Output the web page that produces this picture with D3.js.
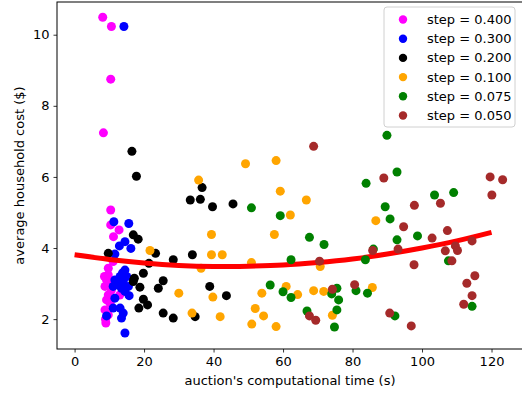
<!DOCTYPE html>
<html>
<head>
<meta charset="utf-8">
<script src="https://cdn.jsdelivr.net/npm/d3@7"></script>
<style>
  body { margin: 0; background: #fff; }
  text { font-family: "DejaVu Sans", sans-serif; fill: #000; }
</style>
</head>
<body>
<div id="chart"></div>
<script>
// Data: [time (s), cost ($)]
const step400 = [[8.1,10.49],[10.6,10.23],[10.4,8.75],[8.3,7.24],[10.4,5.07],[10.4,4.65],[12.8,4.51],[11.2,4.32],[11.1,3.62],[9.7,3.43],[9.7,3.24],[9.2,3.1],[10.2,3.01],[8.75,2.92],[10.6,2.82],[9.7,2.68],[9.2,2.54],[10.2,2.45],[8.75,2.26],[9.7,2.12],[9.0,1.89],[13.0,2.68],[8.6,3.2],[8.9,2.0]]
const step300 = [[14.2,10.23],[11.3,4.74],[15.6,4.69],[14.5,4.18],[12.9,4.06],[16.2,3.99],[11.6,3.83],[14.5,3.38],[13.1,3.2],[15.0,3.2],[11.6,3.1],[14.0,3.06],[12.6,2.96],[15.5,2.92],[11.1,2.92],[13.5,2.87],[14.5,2.78],[15.7,2.66],[11.6,2.59],[11.1,2.31],[13.1,2.31],[14.0,2.17],[9.2,2.09],[13.5,2.03],[14.5,1.61],[12.2,3.0],[13.8,3.3]]
const step200 = [[16.5,6.72],[17.8,6.02],[33.3,5.35],[36.2,5.37],[36.7,5.7],[39.7,5.16],[45.6,5.24],[16.9,4.37],[18.3,4.25],[9.7,3.85],[23.3,3.85],[28.4,3.67],[33.9,3.81],[21.4,3.57],[19.8,3.29],[17.2,3.15],[16.9,3.06],[25.5,3.08],[24.1,2.87],[18.8,2.9],[19.8,2.56],[21.0,2.4],[18.5,2.31],[25.5,2.17],[28.4,2.03],[34.7,2.07],[38.9,2.92],[43.7,2.66]]
const step100 = [[21.7,3.93],[30.0,2.73],[49.2,6.37],[58.0,6.46],[35.7,5.91],[59.2,5.6],[66.7,5.35],[62.1,4.93],[39.4,4.38],[57.5,4.38],[39.4,3.81],[42.5,3.81],[36.4,3.43],[50.9,3.59],[70.7,3.48],[39.8,2.62],[53.9,2.73],[60.9,2.92],[64.2,2.69],[68.8,2.8],[71.7,2.78],[33.8,2.17],[41.9,2.07],[52.0,2.3],[54.4,2.09],[51.0,1.86],[58.0,1.79],[74.2,2.11],[86.7,4.77],[85.7,2.89]]
const step075 = [[50.9,5.13],[59.2,4.91],[67.6,4.3],[71.8,4.1],[62.3,3.67],[56.3,2.96],[60.0,2.77],[62.3,2.61],[66.9,2.23],[75.5,2.87],[74.0,2.71],[76.0,2.54],[75.5,2.26],[74.8,1.78],[89.9,7.17],[92.8,6.14],[83.9,5.82],[103.6,5.49],[109.1,5.56],[89.4,5.16],[90.8,4.82],[92.8,4.23],[98.7,4.34],[86.0,3.97],[83.7,3.67],[107.6,3.64],[81.0,2.8],[84.3,2.73],[92.2,2.09],[114.4,2.36]]
const step050 = [[68.8,6.86],[70.5,3.63],[74.2,2.84],[67.6,2.09],[69.4,1.97],[89.0,5.97],[119.6,6.0],[123.2,5.92],[120.1,5.49],[97.8,5.2],[105.3,5.26],[94.7,4.6],[107.3,4.49],[102.9,4.28],[114.4,4.2],[109.6,4.06],[110.2,3.93],[93.1,3.97],[85.8,3.93],[106.7,3.92],[108.6,3.64],[97.7,3.53],[115.2,3.22],[112.9,3.01],[80.6,2.97],[114.4,2.66],[112.0,2.42],[90.7,2.17],[96.9,1.81]]

// Fitted curve
const fitX = [0, 10, 20, 30, 40, 50, 60, 70, 80, 90, 100, 110, 120]
const fitY = [3.81, 3.68, 3.58, 3.51, 3.48, 3.49, 3.52, 3.59, 3.69, 3.83, 4.00, 4.20, 4.44]

const stepLabels = ["step = 0.400", "step = 0.300", "step = 0.200", "step = 0.100", "step = 0.075", "step = 0.050"]
const stepColors = ["#ff00ff", "#0000ff", "#000000", "#ffa500", "#008000", "#a52a2a"]
const xTicks = [0, 20, 40, 60, 80, 100, 120]
const yTicks = [2, 4, 6, 8, 10]

;(function () {
  const W = 522, H = 396
  // plot box (the right side runs past the window, as in the picture)
  const margin = { top: 2, left: 57 }
  const width = 471
  const height = 347

  const svg = d3.select("#chart").append("svg")
    .attr("width", W)
    .attr("height", H)

  const g = svg.append("g")
    .attr("transform", "translate(" + margin.left + "," + margin.top + ")")

  const x = d3.scaleLinear().domain([-5.06, 130.5]).range([0, width])
  const y = d3.scaleLinear().domain([1.16, 10.92]).range([height, 0])

  // axes
  const xAxis = g.append("g")
    .attr("transform", "translate(0," + height + ")")
    .call(d3.axisBottom(x).tickValues(xTicks).tickSize(3.5).tickPadding(4))
  const yAxis = g.append("g")
    .call(d3.axisLeft(y).tickValues(yTicks).tickSize(3.5).tickPadding(4))

  ;[xAxis, yAxis].forEach(a => {
    a.select(".domain").remove()
    a.selectAll("text").attr("font-size", 13).attr("font-family", "DejaVu Sans").attr("fill", "#000")
    a.selectAll("line").attr("stroke", "#000").attr("stroke-width", 0.8)
  })

  const series = [step400, step300, step200, step100, step075, step050]
  const line = d3.line().x(d => x(d[0])).y(d => y(d[1])).curve(d3.curveNatural)
  const fit = fitX.map((v, i) => [v, fitY[i]])

  series.forEach((pts, i) => {
    g.append("g").selectAll("circle")
      .data(pts)
      .join("circle")
      .attr("cx", d => x(d[0]))
      .attr("cy", d => y(d[1]))
      .attr("r", 4.5)
      .attr("fill", stepColors[i])
    if (i === 3) {
      g.append("path")
        .datum(fit)
        .attr("d", line)
        .attr("fill", "none")
        .attr("stroke", "#ff0000")
        .attr("stroke-width", 5)
    }
  })

  // frame
  g.append("rect")
    .attr("width", width)
    .attr("height", height)
    .attr("fill", "none")
    .attr("stroke", "#000")
    .attr("stroke-width", 1)

  // axis titles
  svg.append("text")
    .attr("x", 290)
    .attr("y", 384.5)
    .attr("text-anchor", "middle")
    .attr("font-size", 13)
    .text("auction's computational time (s)")

  svg.append("text")
    .attr("transform", "translate(24," + (margin.top + height / 2) + ") rotate(-90)")
    .attr("text-anchor", "middle")
    .attr("font-size", 13)
    .text("average household cost ($)")

  // legend
  const legend = svg.append("g").attr("transform", "translate(384,7)")
  legend.append("rect")
    .attr("width", 131)
    .attr("height", 120)
    .attr("rx", 3)
    .attr("fill", "#fff")
    .attr("fill-opacity", 0.8)
    .attr("stroke", "#d0d0d0")

  const rows = legend.selectAll("g.row")
    .data(stepLabels)
    .join("g")
    .attr("class", "row")
    .attr("transform", (d, i) => "translate(0," + (12.5 + i * 19.2) + ")")
  rows.append("circle")
    .attr("cx", 19)
    .attr("r", 4.2)
    .attr("fill", (d, i) => stepColors[i])
  rows.append("text")
    .attr("x", 43)
    .attr("dy", "0.35em")
    .attr("font-size", 13)
    .text(d => d)
})();
</script>
</body>
</html>
